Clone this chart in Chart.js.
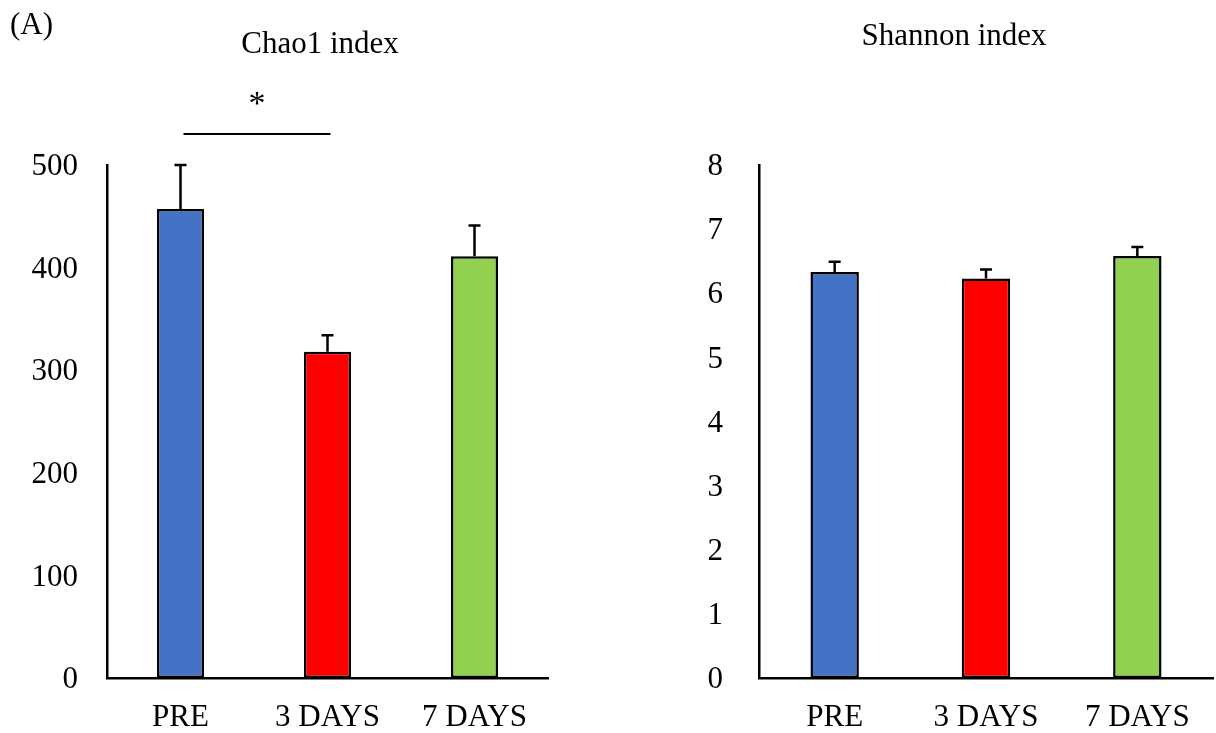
<!DOCTYPE html>
<html>
<head>
<meta charset="utf-8">
<script src="https://cdn.jsdelivr.net/npm/chart.js@4.4.1/dist/chart.umd.min.js"></script>
<style>
  html, body { margin: 0; padding: 0; background: #ffffff; }
  #wrap { position: relative; width: 1216px; height: 733px; }
  .box { position: absolute; top: 0; width: 608px; height: 733px; }
</style>
</head>
<body>
<div id="wrap">
  <div class="box" style="left:0"><canvas id="c1"></canvas></div>
  <div class="box" style="left:608px"><canvas id="c2"></canvas></div>
</div>
<script>
// ---- data ----
const categories = ["PRE", "3 DAYS", "7 DAYS"];
const chaoValues = [457, 318, 411];
const chaoErrors = [43, 16, 30];
const shannonValues = [6.33, 6.23, 6.58];
const shannonErrors = [0.16, 0.14, 0.14];
const barColors = ["#4472C4", "#FF0000", "#92D050"];
const chaoTicks = [0, 100, 200, 300, 400, 500];
const shannonTicks = [0, 1, 2, 3, 4, 5, 6, 7, 8];
const chaoTitle = "Chao1 index";
const shannonTitle = "Shannon index";
const panelLabel = "(A)";
const sigMark = "*";
const sigPair = [0, 1];
const sigLevel = 530;

const FONT = "'Liberation Serif', 'Times New Roman', serif";

const errorBarPlugin = {
  id: 'errorBars',
  afterDatasetsDraw(chart, args, opts) {
    const ctx = chart.ctx;
    const meta = chart.getDatasetMeta(0);
    const ys = chart.scales.y;
    const vals = chart.data.datasets[0].data;
    ctx.save();
    ctx.strokeStyle = '#000';
    ctx.lineWidth = 2.5;
    meta.data.forEach((el, i) => {
      const top = ys.getPixelForValue(vals[i] + opts.errors[i]);
      ctx.beginPath();
      ctx.moveTo(el.x, el.y);
      ctx.lineTo(el.x, top);
      ctx.moveTo(el.x - 6, top);
      ctx.lineTo(el.x + 6, top);
      ctx.stroke();
    });
    ctx.restore();
  }
};

const textPlugin = {
  id: 'texts',
  afterDraw(chart, args, opts) {
    const ctx = chart.ctx;
    ctx.save();
    ctx.fillStyle = '#000';
    ctx.font = '31px ' + FONT;
    ctx.textBaseline = 'alphabetic';
    (opts.items || []).forEach(t => {
      ctx.textAlign = t.align || 'center';
      ctx.fillText(t.text, t.x, t.y);
    });
    if (opts.sig) {
      const meta = chart.getDatasetMeta(0);
      const ys = chart.scales.y;
      const x0 = meta.data[opts.sig.pair[0]].x + 3;
      const x1 = meta.data[opts.sig.pair[1]].x + 3;
      const y = Math.round(ys.getPixelForValue(opts.sig.level));
      ctx.strokeStyle = '#000';
      ctx.lineWidth = 2;
      ctx.beginPath();
      ctx.moveTo(x0, y);
      ctx.lineTo(x1, y);
      ctx.stroke();
      ctx.textAlign = 'center';
      ctx.font = '34px ' + FONT;
      ctx.fillText(opts.sig.text, (x0 + x1) / 2, y - 20);
    }
    ctx.restore();
  }
};

function makeChart(id, values, errors, ticks, padRight, yWidth, tickPad, texts, sig) {
  return new Chart(document.getElementById(id), {
    type: 'bar',
    data: {
      labels: categories,
      datasets: [{
        data: values,
        backgroundColor: barColors,
        borderColor: '#000',
        borderWidth: 2.5,
        borderSkipped: false,
        categoryPercentage: 1,
        barPercentage: 0.32
      }]
    },
    options: {
      responsive: true,
      maintainAspectRatio: false,
      animation: false,
      layout: { padding: { left: 0, right: padRight, top: 165, bottom: 0 } },
      plugins: {
        legend: { display: false },
        tooltip: { enabled: false },
        errorBars: { errors: errors },
        texts: { items: texts, sig: sig }
      },
      scales: {
        x: {
          grid: { display: false, drawTicks: false },
          border: { display: true, color: '#000', width: 2.5 },
          ticks: { color: '#000', font: { family: FONT, size: 31 }, padding: 21 },
          afterFit(s) { s.height = 55; }
        },
        y: {
          min: ticks[0],
          max: ticks[ticks.length - 1],
          afterBuildTicks(s) { s.ticks = ticks.map(v => ({ value: v })); },
          grid: { display: false, drawTicks: false },
          border: { display: true, color: '#000', width: 2.5 },
          ticks: { color: '#000', font: { family: FONT, size: 31 }, padding: tickPad, labelOffset: 2 },
          afterFit(s) { s.width = yWidth; }
        }
      }
    },
    plugins: [errorBarPlugin, textPlugin]
  });
}

makeChart('c1', chaoValues, chaoErrors, chaoTicks, 60, 107, 29,
  [{ text: panelLabel, x: 10, y: 34, align: 'left' }, { text: chaoTitle, x: 320, y: 53 }],
  { pair: sigPair, level: sigLevel, text: sigMark });
makeChart('c2', shannonValues, shannonErrors, shannonTicks, 3, 151, 36,
  [{ text: shannonTitle, x: 346, y: 45 }], null);
</script>
</body>
</html>
